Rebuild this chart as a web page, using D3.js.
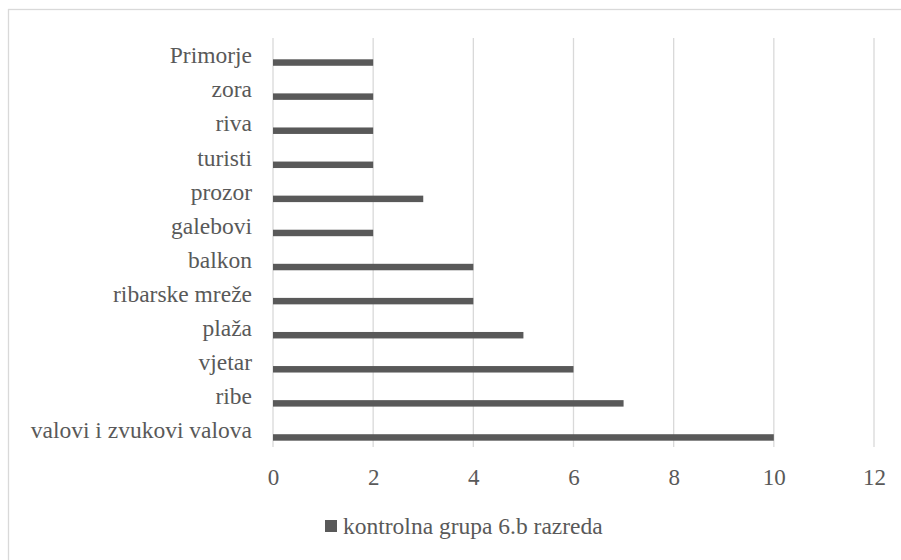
<!DOCTYPE html>
<html>
<head>
<meta charset="utf-8">
<script src="https://cdn.jsdelivr.net/npm/d3@7"></script>
<style>
  body { margin: 0; background: #fff; }
  svg text { font-family: "Liberation Serif", "Times New Roman", Tinos, Times, "DejaVu Serif", serif !important; fill: #595959; }
</style>
</head>
<body>
<script>
// Data (top to bottom as shown)
var categories = ["Primorje", "zora", "riva", "turisti", "prozor", "galebovi",
                  "balkon", "ribarske mreže", "plaža", "vjetar", "ribe", "valovi i zvukovi valova"];
var values = [2, 2, 2, 2, 3, 2, 4, 4, 5, 6, 7, 10];
var xTicks = [0, 2, 4, 6, 8, 10, 12];
var seriesName = "kontrolna grupa 6.b razreda";

var W = 901, H = 560;
var margin = {top: 38, right: 27, bottom: 113, left: 273},
    width = W - margin.left - margin.right,
    height = H - margin.top - margin.bottom;

var svg = d3.select("body").append("svg")
    .attr("width", W)
    .attr("height", H);

// chart frame (cropped at right and bottom)
svg.append("rect")
    .attr("x", 8.5).attr("y", 9.5)
    .attr("width", W + 20).attr("height", H + 20)
    .style("fill", "none")
    .style("stroke", "#d9d9d9")
    .style("stroke-width", 1.3);

var g = svg.append("g")
    .attr("transform", "translate(" + margin.left + "," + margin.top + ")");

// Scales
var xScale = d3.scaleLinear().domain([0, 12]).range([0, width]);
var yScale = d3.scaleBand().domain(categories).range([0, height]);

// Gridlines
g.selectAll(".grid")
    .data(xTicks)
    .enter().append("line")
    .attr("x1", function(d) { return xScale(d); })
    .attr("x2", function(d) { return xScale(d); })
    .attr("y1", 0)
    .attr("y2", height)
    .style("stroke", "#d9d9d9")
    .style("stroke-width", 1.3);

// X axis labels
var xaxis = d3.axisBottom(xScale).tickValues(xTicks).tickSize(0).tickPadding(22);
var xg = g.append("g")
    .attr("transform", "translate(0," + height + ")")
    .call(xaxis);
xg.select(".domain").remove();
xg.attr("font-family", null);
xg.selectAll("text")
    .style("font-size", "23px")
    .attr("fill", "#595959");

// Y axis labels
var yaxis = d3.axisLeft(yScale).tickSize(0).tickPadding(21);
var yg = g.append("g").call(yaxis);
yg.select(".domain").remove();
yg.attr("font-family", null);
yg.selectAll("text")
    .style("font-size", "23.5px")
    .attr("fill", "#595959")
    .attr("dy", "0.35em");

// Bars
g.selectAll(".bar")
    .data(values)
    .enter().append("rect")
    .attr("class", "bar")
    .attr("x", xScale(0))
    .attr("y", function(d, i) { return yScale(categories[i]) + yScale.bandwidth() * 0.625; })
    .attr("width", function(d) { return xScale(d) - xScale(0); })
    .attr("height", yScale.bandwidth() * 0.19)
    .style("fill", "#595959");

// Legend
var legend = svg.append("g").attr("transform", "translate(325,520)");
legend.append("rect")
    .attr("width", 12).attr("height", 12)
    .style("fill", "#595959");
legend.append("text")
    .attr("x", 18).attr("y", 14)
    .style("font-size", "23.5px")
    .text(seriesName);
</script>
</body>
</html>
